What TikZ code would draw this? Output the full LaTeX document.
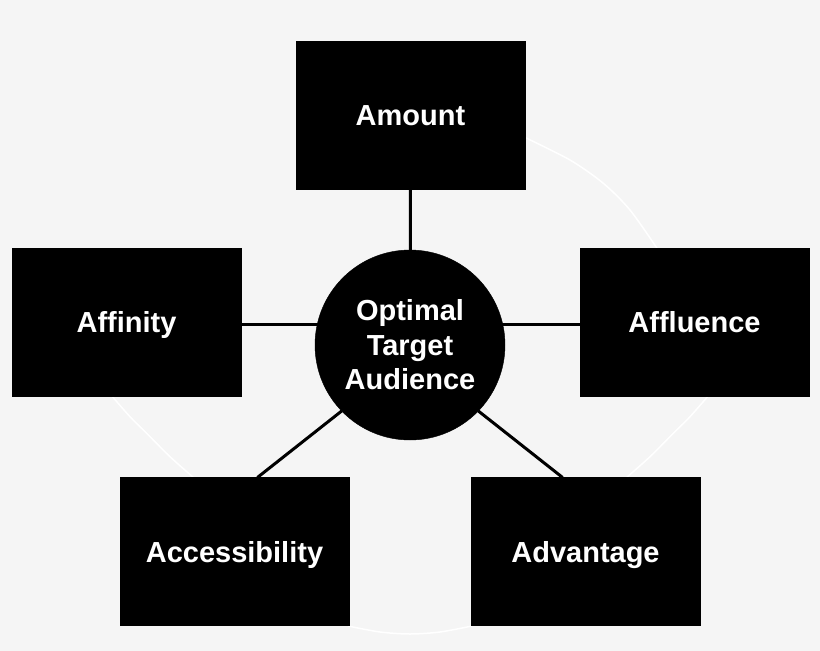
\documentclass[tikz,border=0pt]{standalone}
\usepackage{fontspec}
\setmainfont{Liberation Sans}
\usepackage{tikz}
\usetikzlibrary{calc,backgrounds}
\definecolor{bgc}{HTML}{F5F5F5}
\definecolor{ink}{HTML}{000000}
\tikzset{
  box/.style={draw=ink,fill=ink,line width=0.5pt,minimum width=229pt,minimum height=148pt,inner sep=0pt,outer sep=0pt,
    text height=21pt,text depth=0pt,text=white,font=\fontsize{29}{34.5}\selectfont\bfseries,align=center},
  hub/.style={circle,draw=ink,fill=ink,minimum size=190pt,inner sep=0pt,outer sep=0pt,
    text=white,font=\fontsize{29}{34.5}\selectfont\bfseries,align=center},
  link/.style={draw=ink,line width=3pt},
  ring/.style={draw=white,line width=1.5pt},
}
\begin{document}
\begin{tikzpicture}[x=1pt,y=-1pt]
\useasboundingbox (0,0) rectangle (820,651);
% hub and the five outer boxes
\node[hub] (aud) at (410,345) {Optimal\\Target\\Audience};
\node[box] (amt) at (410.5,115) {Amount};
\node[box] (afn) at (126.5,322) {Affinity};
\node[box] (afl) at (694.5,322) {Affluence};
\node[box] (acc) at (234.5,551.5) {Accessibility};
\node[box] (adv) at (585.5,551.5) {Advantage};
\begin{scope}[on background layer]
\fill[bgc] (0,0) rectangle (820,651);
% faint ring between the boxes
\draw[ring] plot[smooth] coordinates {(524,137) (570,160) (603.3,183.3) (630,210) (657.5,249)};
\draw[ring] plot[smooth] coordinates {(709,395) (690,416.7) (673.3,433.3) (650,456.7) (626,478)};
\draw[ring] plot[smooth] coordinates {(348,626) (380,632) (410,634) (440,632) (472,626)};
\draw[ring] plot[smooth] coordinates {(111,395) (130,416.7) (146.7,433.3) (170,456.7) (194,478)};
% spokes
\draw[link] (amt.south) -- (aud.center);
\draw[link] ([yshift=-2pt]afn.east) -- ([yshift=-2pt]afn.east -| aud.center);
\draw[link] ([yshift=-2pt]afl.west) -- ([yshift=-2pt]afl.west -| aud.center);
\draw[link] (aud.224) -- ($(acc.north west)!0.6!(acc.north east)$);
\draw[link] (aud.316) -- ($(adv.north west)!0.4!(adv.north east)$);
\end{scope}
\end{tikzpicture}
\end{document}
